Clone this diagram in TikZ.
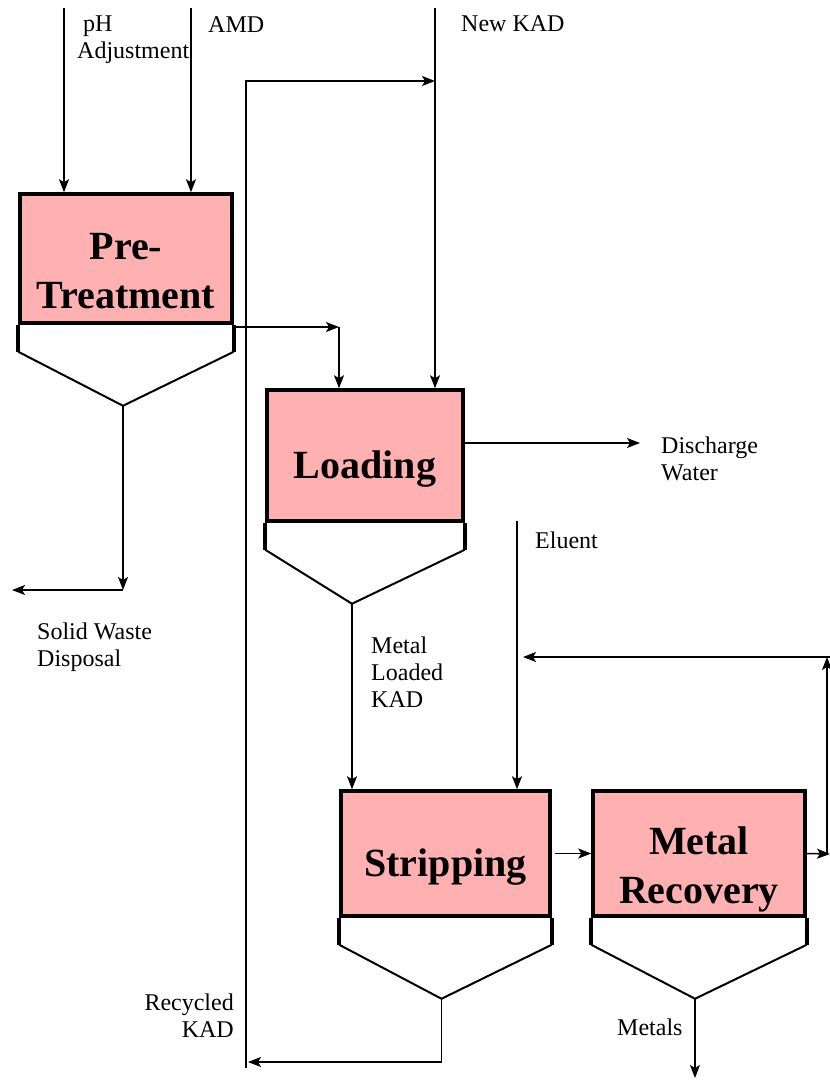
\documentclass[tikz,border=0pt]{standalone}
\usepackage{fontspec}
\setmainfont{Liberation Serif}
\usepackage{tikz}
\usetikzlibrary{arrows.meta, positioning, calc}
\definecolor{tankpink}{RGB}{255,176,176}
\newcommand{\lbltext}{\fontsize{24}{27}\selectfont}
\newcommand{\tanktext}{\fontsize{40}{49}\selectfont\bfseries}
% cone under a tank, apex named <tank>-out
\newcommand{\hopper}[2][0]{%
  \draw[hopwall] (#2.south west) -- ++(0,27);
  \draw[hopwall] (#2.south east) -- ++(0,27);
  \draw[hopslope] ($(#2.south west)+(0,27)$) -- ($(#2.south)+(#1,81)$) coordinate (#2-out) -- ($(#2.south east)+(0,27)$);
}

\begin{document}
\begin{tikzpicture}[x=1pt, y=-1pt,
    arr/.style={-{Stealth[length=13pt, width=10pt, inset=3pt]}, line width=1.5pt},
    tank/.style={draw, line width=3.5pt, fill=tankpink, font=\tanktext, align=center, inner sep=0pt},
    oneline/.style={text height=54pt, text depth=9pt},
    twoline/.style={text height=100pt, text depth=0pt},
    hopwall/.style={line width=4pt},
    hopslope/.style={line width=2pt},
    lbl/.style={font=\lbltext, inner sep=0pt, anchor=base west, align=left},
]
\useasboundingbox (0,0) rectangle (830,1080);

% tanks
\node[tank, twoline, minimum width=212pt, minimum height=129pt] (pre) at (126,258.5) {Pre-\\Treatment};
\node[tank, oneline, minimum width=196pt, minimum height=131pt] (load) at (365,455.5) {Loading};
\node[tank, oneline, minimum width=209pt, minimum height=125pt] (strip) at (445.5,853.5) {Stripping};
\node[tank, twoline, minimum width=212pt, minimum height=125pt, right=39.5pt of strip] (recov) {Metal\\Recovery};

\hopper[-3]{pre}
\hopper[-13]{load}
\hopper[-4]{strip}
\hopper[-4]{recov}

% feeds
\coordinate (ph) at (64,8);
\coordinate (amd) at (191,8);
\coordinate (newkad) at (435,8);
\draw[arr] (ph) -- (ph |- pre.north);
\draw[arr] (amd) -- (amd |- pre.north);
\draw[arr] (newkad) -- (newkad |- load.north);

% pre-treatment to loading
\coordinate (prebend) at (339,327);
\draw[arr] (pre.south east |- prebend) -- (prebend);
\draw[arr] (prebend) -- (prebend |- load.north);

% solid waste
\coordinate (swend) at (12,590);
\draw[arr] (pre-out) -- (pre-out |- swend);
\draw[arr] (pre-out |- swend) -- (swend);

% discharge
\coordinate (dis) at (640,443);
\draw[arr] (load.east |- dis) -- (dis);

% loaded KAD and eluent
\draw[arr] (load-out) -- (load-out |- strip.north);
\coordinate (elu) at (517,521);
\draw[arr] (elu) -- (elu |- strip.north);
\draw[arr, shorten <=3pt] (strip) -- (recov);

% eluent return
\coordinate (retr) at (830,854);
\coordinate (rettop) at (827,657);
\coordinate (retl) at (523,657);
\draw[arr] (recov.east) -- (retr);
\draw[arr] (rettop |- retr) -- (rettop);
\draw[arr] (retr |- rettop) -- (retl);

% recycled KAD
\coordinate (rbot) at (248,1062);
\coordinate (rbase) at (246,1068);
\coordinate (rtop) at (435,81);
\draw[arr] (strip-out) |- (rbot);
\draw[arr] (rbase) |- (rtop);

% metals
\coordinate (metals) at (695,1078);
\draw[arr] (recov-out) -- (metals);

% labels (base = last line)
\node[lbl] (phlbl) at (77,58) {\hspace*{6pt}pH\\Adjustment};
\node[lbl] (amdlbl) at (208,32) {AMD};
\node[lbl] (newkadlbl) at (461,31) {New KAD};
\node[lbl] (dislbl) at (661,480) {Discharge\\Water};
\node[lbl] (elulbl) at (535,548) {Eluent};
\node[lbl] (kadlbl) at (371,707) {Metal\\Loaded\\KAD};
\node[lbl] (swlbl) at (37,666) {Solid Waste\\Disposal};
\node[lbl, anchor=base east, align=right] (reclbl) at (234,1037) {Recycled\\KAD};
\node[lbl] (metlbl) at (617,1035) {Metals};
\end{tikzpicture}
\end{document}
